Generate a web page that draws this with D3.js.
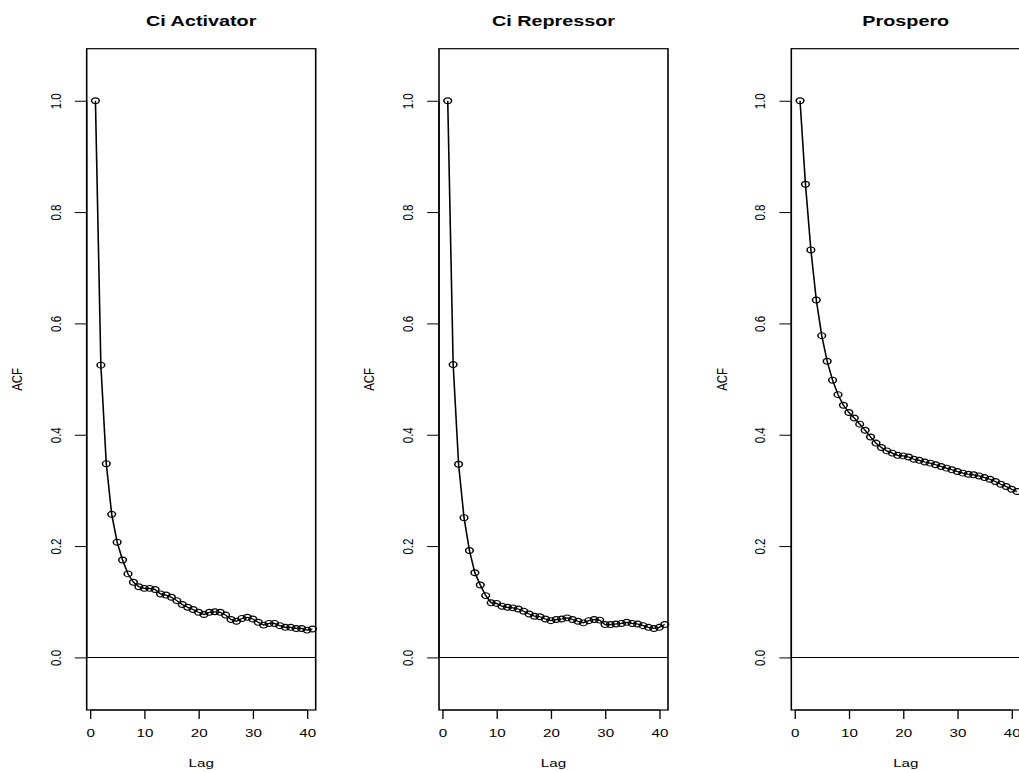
<!DOCTYPE html>
<html>
<head>
<meta charset="utf-8">
<script src="https://cdn.jsdelivr.net/npm/d3@7"></script>
<style>
  body { margin: 0; background: #fff; }
  svg { display: block; }
  text { font-family: "Liberation Sans", Arial, Helvetica, sans-serif; fill: #000; }
</style>
</head>
<body>
<svg id="chart" width="1019" height="771"></svg>
<script>
// Autocorrelation functions for three signals, lags 1..41
const panelTitles = ["Ci Activator", "Ci Repressor", "Prospero"];
const lags = d3.range(1, 42);

const ciActivator = [1.000, 0.525, 0.348, 0.257, 0.207, 0.175, 0.150, 0.135, 0.127, 0.124,
  0.124, 0.122, 0.114, 0.112, 0.108, 0.102, 0.095, 0.090, 0.086, 0.081,
  0.077, 0.081, 0.082, 0.081, 0.076, 0.068, 0.065, 0.070, 0.072, 0.069,
  0.063, 0.058, 0.061, 0.061, 0.057, 0.054, 0.054, 0.052, 0.052, 0.049, 0.051];

const ciRepressor = [1.000, 0.526, 0.347, 0.251, 0.192, 0.152, 0.130, 0.111, 0.098, 0.097,
  0.092, 0.090, 0.089, 0.087, 0.083, 0.078, 0.074, 0.073, 0.069, 0.066,
  0.068, 0.069, 0.071, 0.068, 0.065, 0.062, 0.066, 0.068, 0.067, 0.059,
  0.059, 0.060, 0.061, 0.063, 0.061, 0.060, 0.057, 0.054, 0.052, 0.054, 0.059];

const prospero = [1.000, 0.850, 0.732, 0.642, 0.578, 0.532, 0.498, 0.472, 0.453, 0.440,
  0.430, 0.419, 0.408, 0.396, 0.385, 0.377, 0.371, 0.367, 0.363, 0.362,
  0.360, 0.356, 0.354, 0.351, 0.349, 0.346, 0.343, 0.340, 0.337, 0.334,
  0.331, 0.329, 0.328, 0.326, 0.323, 0.320, 0.316, 0.311, 0.307, 0.302, 0.298];

const seriesList = [ciActivator, ciRepressor, prospero];
const xTicks = [0, 10, 20, 30, 40];
const yTicks = [0.0, 0.2, 0.4, 0.6, 0.8, 1.0];
const xLabel = "Lag";
const yLabel = "ACF";

// Page geometry (output pixels)
const sx = 1.32;                 // horizontal stretch of the whole figure
const panelStep = 352.3;         // horizontal distance between panels
const boxLeft = 86.7, boxRight = 315.7, boxTop = 48.7, boxBottom = 710;
const xDomain = [-0.61, 41.6];
const yDomain = [-0.0945, 1.0935];
const tickLen = 9;

const svg = d3.select("#chart");
svg.append("rect").attr("width", 1019).attr("height", 771).attr("fill", "#fff");

const root = svg.append("g").attr("transform", `scale(${sx},1)`);

const y = d3.scaleLinear().domain(yDomain).range([boxBottom, boxTop]);

seriesList.forEach((vals, i) => {
  const off = (i * panelStep) / sx;
  const x = d3.scaleLinear().domain(xDomain)
    .range([boxLeft / sx + off, boxRight / sx + off]);
  const g = root.append("g");

  // title
  const cx = (x.range()[0] + x.range()[1]) / 2;
  g.append("text")
    .attr("x", cx).attr("y", 26)
    .attr("text-anchor", "middle")
    .attr("font-size", 15).attr("font-weight", "bold")
    .text(panelTitles[i]);

  // zero reference line
  g.append("line")
    .attr("x1", x.range()[0]).attr("x2", x.range()[1])
    .attr("y1", y(0)).attr("y2", y(0))
    .attr("stroke", "#000").attr("stroke-width", 1);

  // series line
  const pts = lags.map((l, k) => [l, vals[k]]);
  g.append("path")
    .datum(pts)
    .attr("fill", "none").attr("stroke", "#000").attr("stroke-width", 1.2)
    .attr("d", d3.line().x(d => x(d[0])).y(d => y(d[1])));

  // open circle markers
  g.selectAll("circle.pt").data(pts).join("circle")
    .attr("class", "pt")
    .attr("cx", d => x(d[0])).attr("cy", d => y(d[1]))
    .attr("r", 2.9)
    .attr("fill", "none").attr("stroke", "#000").attr("stroke-width", 1.15);

  // x axis
  const xAxis = d3.axisBottom(x).tickValues(xTicks).tickSize(tickLen).tickSizeOuter(0).tickFormat(d3.format("d"));
  const gx = g.append("g").attr("transform", `translate(0,${boxBottom})`).call(xAxis);
  gx.select(".domain").attr("d", `M${x(xTicks[0])},0H${x(xTicks[xTicks.length - 1])}`).attr("stroke-width", 1);
  gx.selectAll(".tick line").attr("stroke-width", 1);
  gx.selectAll(".tick text").attr("y", 0).attr("dy", null)
    .attr("transform", "translate(0,27)")
    .attr("font-size", 11.5).attr("font-family", "Liberation Sans, Arial, sans-serif");

  // y axis
  const yAxis = d3.axisLeft(y).tickValues(yTicks).tickSize(tickLen).tickSizeOuter(0).tickFormat(d3.format(".1f"));
  const gy = g.append("g").attr("transform", `translate(${x.range()[0]},0)`).call(yAxis);
  gy.select(".domain").attr("d", `M0,${y(yTicks[0])}V${y(yTicks[yTicks.length - 1])}`).attr("stroke-width", 1);
  gy.selectAll(".tick line").attr("stroke-width", 1);
  gy.selectAll(".tick text")
    .attr("x", null).attr("dy", null)
    .attr("text-anchor", "middle")
    .attr("transform", `translate(${(60.7 - boxLeft) / sx},0) rotate(-90)`)
    .attr("font-size", 11.5).attr("font-family", "Liberation Sans, Arial, sans-serif");

  // plot box
  g.append("rect")
    .attr("x", x.range()[0]).attr("y", boxTop)
    .attr("width", x.range()[1] - x.range()[0]).attr("height", boxBottom - boxTop)
    .attr("fill", "none").attr("stroke", "#000").attr("stroke-width", 1.2);

  // axis titles
  g.append("text")
    .attr("x", cx).attr("y", 767)
    .attr("text-anchor", "middle").attr("font-size", 11.5)
    .text(xLabel);
  g.append("text")
    .attr("transform", `translate(${(22 / sx) + off},${(boxTop + boxBottom) / 2}) rotate(-90)`)
    .attr("text-anchor", "middle").attr("font-size", 11.5)
    .text(yLabel);
});
</script>
</body>
</html>
